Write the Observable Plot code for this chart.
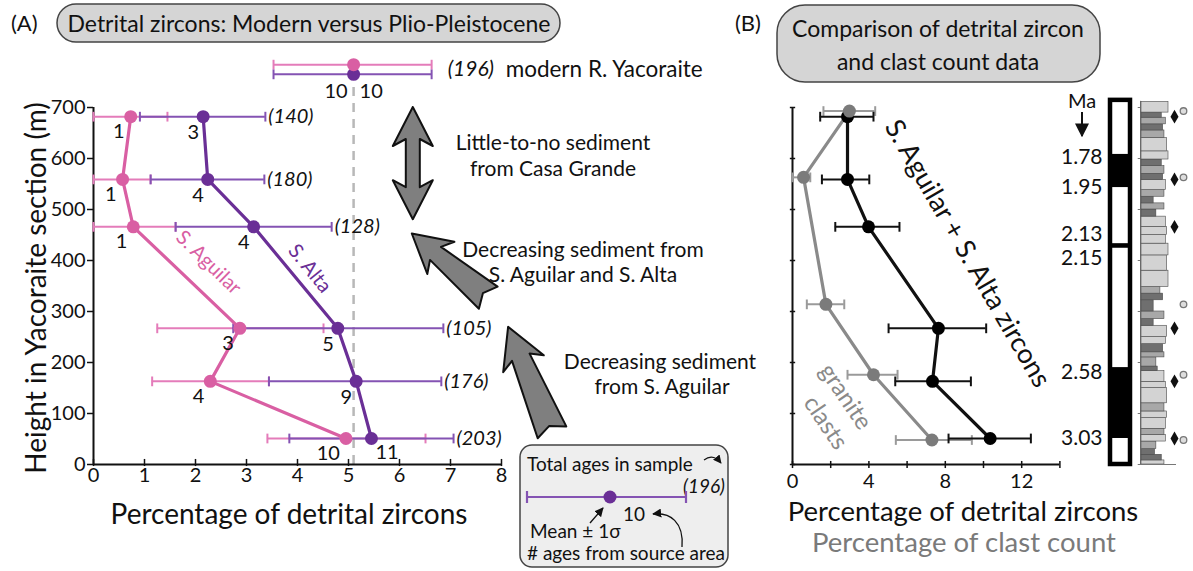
<!DOCTYPE html>
<html><head><meta charset="utf-8">
<script src="https://cdn.jsdelivr.net/npm/d3@7"></script>
<script src="https://cdn.jsdelivr.net/npm/@observablehq/plot@0.6"></script>
<style>
body{margin:0;background:#fff;}
#root{position:relative;width:1193px;height:571px;overflow:hidden;background:#fff;}
#root > svg{position:absolute;left:0;top:0;}
</style></head><body><div id="root"></div>
<script>
const W = 1193, H = 571;
const FONT = "Lato, 'Open Sans', sans-serif";

// ---------- Panel A data (Yacoraite section samples, bottom axis = % detrital zircons) ----------
const sampleHeights = [682, 559, 466, 267, 163, 51];            // m
const sampleTotals  = ["(140)", "(180)", "(128)", "(105)", "(176)", "(203)"];
const aguilarMean = [0.73, 0.57, 0.78, 2.87, 2.29, 4.95];
const aguilarLo   = [0.00, 0.00, 0.00, 1.25, 1.15, 3.41];
const aguilarHi   = [1.45, 1.12, 1.61, 4.51, 3.44, 6.51];
const aguilarN    = [1, 1, 1, 3, 4, 10];
const altaMean = [2.15, 2.24, 3.14, 4.79, 5.15, 5.45];
const altaLo   = [0.91, 1.12, 1.61, 2.74, 3.44, 3.84];
const altaHi   = [3.37, 3.35, 4.67, 6.86, 6.82, 7.06];
const altaN    = [3, 4, 4, 5, 9, 11];
// modern river sample (drawn above the section)
const modernSources = ["S. Aguilar", "S. Alta"];
const modernMean = [5.1, 5.1];
const modernLo   = [3.53, 3.53];
const modernHi   = [6.63, 6.63];
const modernN    = [10, 10];
const modernRowY = [784, 765];
const modernTotal = "(196)";
const modernName = "modern R. Yacoraite";
const xTicksA = [0, 1, 2, 3, 4, 5, 6, 7, 8];
const yTicks  = [0, 100, 200, 300, 400, 500, 600, 700];

// ---------- Panel B data ----------
const combinedMean = [2.88, 2.88, 3.98, 7.64, 7.33, 10.35];
const combinedLo   = [1.45, 1.54, 2.24, 5.03, 5.38, 8.17];
const combinedHi   = [4.24, 4.02, 5.60, 10.14, 9.34, 12.48];
const clastHeights = [693, 563, 314, 176, 48];
const clastMean = [2.98, 0.58, 1.75, 4.24, 7.30];
const clastLo   = [1.62, 0.00, 0.75, 2.88, 5.41];
const clastHi   = [4.33, 0.93, 2.71, 5.50, 9.39];
const xTicksB  = [0, 2, 4, 6, 8, 10, 12, 14];
const xLabelsB = [0, 4, 8, 12];

// ---------- Magnetostratigraphy and log ----------
const chronAges    = ["1.78", "1.95", "2.13", "2.15", "2.58", "3.03"];
const chronHeights = [608, 543, 433, 424, 190, 51];
const columnTop = 714;
const bedBase  = [0,8,19,30,45,58,70,91,104,120,150,162,183,192,210,220,236,250,272,285,300,322,335,348,380,410,433,450,466,486,500,512,525,538,558,570,585,598,614,640,655,667,680,690];
const bedTop   = [8,19,30,45,58,70,91,104,120,150,162,183,192,210,220,236,250,272,285,300,322,335,348,380,410,433,450,466,486,500,512,525,538,558,570,585,598,614,640,655,667,680,690,711];
const bedGrain = [0.85,0.75,0.5,0.55,0.9,0.85,0.9,0.95,0.85,0.95,0.9,0.85,0.6,0.55,0.85,0.8,0.9,0.95,0.45,0.85,0.45,0.8,0.7,1.0,0.95,1.0,0.9,0.95,0.9,0.55,0.85,0.45,0.85,0.9,0.8,0.85,0.75,1.0,0.95,0.85,0.8,0.9,0.75,1.0];
const bedShade = ["l","d","d","m","l","m","l","l","m","l","l","l","d","m","m","d","l","l","d","m","d","d","m","l","l","l","l","l","l","d","m","d","m","l","d","m","d","l","l","m","d","m","d","l"];

// ---------- styles ----------
const PINK = "#d95fa3", PINK_BAR = "#e47cba", PURPLE = "#6a2f96", PURPLE_BAR = "#8453b3";
const GRAY = "#8a8a8a", GRAY_DOT = "#7b7b7b";
const shadeColor = {l: "#d3d3d3", m: "#a8a8a8", d: "#6f6f6f"};
const vbar = {draw(c, s) { const h = Math.sqrt(s) / 2; c.moveTo(0, -h); c.lineTo(0, h); }};
const hbar = {draw(c, s) { const h = Math.sqrt(s) / 2; c.moveTo(-h, 0); c.lineTo(h, 0); }};
const baseStyle = {background: "transparent", fontFamily: FONT, fontSize: "20px", color: "#111", overflow: "visible"};

const rowsA = sampleHeights.map((h, i) => ({h, am: aguilarMean[i], al: aguilarLo[i], ah: aguilarHi[i], an: aguilarN[i],
  pm: altaMean[i], pl: altaLo[i], ph: altaHi[i], pn: altaN[i], tot: sampleTotals[i]}));
const modern = modernSources.map((s, i) => ({s, m: modernMean[i], lo: modernLo[i], hi: modernHi[i], n: modernN[i], y: modernRowY[i]}));
const colorOf = s => s === "S. Aguilar" ? PINK : PURPLE;
const barOf = s => s === "S. Aguilar" ? PINK_BAR : PURPLE_BAR;

function errorBars(data, {y, lo, hi, stroke, w = 2, r = 5.5}) {
  return [
    Plot.ruleY(data, {y, x1: lo, x2: hi, stroke, strokeWidth: w}),
    Plot.dot(data, {x: lo, y, symbol: vbar, r, stroke, strokeWidth: w, fill: "none"}),
    Plot.dot(data, {x: hi, y, symbol: vbar, r, stroke, strokeWidth: w, fill: "none"})
  ];
}

// ---------- Panel A ----------
const plotA = Plot.plot({
  width: W, height: H, marginLeft: 93, marginRight: W - 501, marginTop: 56, marginBottom: H - 464,
  x: {domain: [0, 8], axis: null}, y: {domain: [0, 800], axis: null},
  style: baseStyle,
  marks: [
    Plot.ruleX([modernMean[0]], {y1: 0, y2: 752, stroke: "#b8b8b8", strokeWidth: 2.5, strokeDasharray: "9,7"}),
    Plot.ruleY([0], {x1: 0, x2: 8, stroke: "#111", strokeWidth: 2}),
    Plot.ruleX([0], {y1: 0, y2: 700, stroke: "#111", strokeWidth: 2}),
    Plot.axisY({ticks: yTicks, tickSize: 6, tickPadding: 2, label: null, strokeWidth: 1.5}),
    Plot.axisX({ticks: xTicksA, tickSize: 0, tickPadding: 3, label: null}),
    Plot.dot(xTicksA, {x: d => d, y: 0, dy: -2, symbol: vbar, r: 4, stroke: "#111", strokeWidth: 1.5, fill: "none"}),
    ...errorBars(rowsA, {y: "h", lo: "al", hi: "ah", stroke: PINK_BAR}),
    ...errorBars(rowsA, {y: "h", lo: "pl", hi: "ph", stroke: PURPLE_BAR}),
    ...errorBars(modern, {y: "y", lo: "lo", hi: "hi", stroke: d => barOf(d.s)}),
    Plot.line(rowsA, {x: "am", y: "h", stroke: PINK, strokeWidth: 3.2}),
    Plot.line(rowsA, {x: "pm", y: "h", stroke: PURPLE, strokeWidth: 3.2}),
    Plot.dot(rowsA, {x: "am", y: "h", r: 6.5, fill: PINK}),
    Plot.dot(rowsA, {x: "pm", y: "h", r: 6.5, fill: PURPLE}),
    Plot.dot([modern[1], modern[0]], {x: "m", y: "y", r: 6.5, fill: d => colorOf(d.s)}),
    // counts of ages from each source area
    Plot.text(rowsA, {x: "am", y: "h", text: d => String(d.an), textAnchor: "end", dx: -6, dy: 15}),
    Plot.text(rowsA.slice(0, -1), {x: "pm", y: "h", text: d => String(d.pn), textAnchor: "end", dx: -4, dy: 16}),
    Plot.text(rowsA.slice(-1), {x: "pm", y: "h", text: d => String(d.pn), textAnchor: "start", dx: 4, dy: 14}),
    Plot.text([modern[0]], {x: "m", y: modern[1].y, text: d => String(d.n), textAnchor: "end", dx: -6, dy: 17}),
    Plot.text([modern[1]], {x: "m", y: "y", text: d => String(d.n), textAnchor: "start", dx: 6, dy: 17}),
    // total ages
    Plot.text(rowsA, {x: "ph", y: "h", text: "tot", textAnchor: "start", dx: 3, fontStyle: "italic"}),
    Plot.text([modernTotal], {x: modernHi[0], y: (modernRowY[0] + modernRowY[1]) / 2, text: d => d, textAnchor: "start", dx: 16, fontStyle: "italic", fontSize: 21}),
    Plot.text([modernName], {x: modernHi[0], y: (modernRowY[0] + modernRowY[1]) / 2, text: d => d, textAnchor: "start", dx: 74, fontSize: 22.5}),
    // line labels
    Plot.text(["S. Aguilar"], {x: (aguilarMean[2] + aguilarMean[3]) / 2, y: (sampleHeights[2] + sampleHeights[3]) / 2,
      text: d => d, rotate: 44, dx: 22, dy: -15, fill: PINK}),
    Plot.text(["S. Alta"], {x: (altaMean[2] + altaMean[3]) / 2, y: (sampleHeights[2] + sampleHeights[3]) / 2,
      text: d => d, rotate: 51, dx: 14, dy: -9, fill: PURPLE})
  ]
});

// ---------- Panel B ----------
const rowsB = sampleHeights.map((h, i) => ({h, m: combinedMean[i], lo: combinedLo[i], hi: combinedHi[i]}));
const rowsC = clastHeights.map((h, i) => ({h, m: clastMean[i], lo: clastLo[i], hi: clastHi[i]}));
const plotB = Plot.plot({
  width: W, height: H, marginLeft: 792, marginRight: W - 1059.4, marginTop: 56, marginBottom: H - 464,
  x: {domain: [0, 14], axis: null}, y: {domain: [0, 800], axis: null},
  style: baseStyle,
  marks: [
    Plot.ruleY([0], {x1: 0, x2: 14, stroke: "#111", strokeWidth: 2}),
    Plot.ruleX([0], {y1: 0, y2: 700, stroke: "#111", strokeWidth: 2}),
    Plot.dot(xTicksB, {x: d => d, y: 0, symbol: vbar, r: 4, stroke: "#111", strokeWidth: 1.5, fill: "none"}),
    Plot.dot(yTicks, {x: 0, y: d => d, symbol: hbar, r: 3, stroke: "#111", strokeWidth: 1.5, fill: "none"}),
    Plot.axisX({ticks: xLabelsB, tickSize: 0, tickPadding: 9, label: null}),
    ...errorBars(rowsC, {y: "h", lo: "lo", hi: "hi", stroke: "#9a9a9a"}),
    ...errorBars(rowsB, {y: "h", lo: "lo", hi: "hi", stroke: "#111"}),
    Plot.line(rowsC, {x: "m", y: "h", stroke: GRAY, strokeWidth: 3.2}),
    Plot.line(rowsB, {x: "m", y: "h", stroke: "#111", strokeWidth: 3.2}),
    Plot.dot(rowsB, {x: "m", y: "h", r: 6.5, fill: "#000"}),
    Plot.dot(rowsC, {x: "m", y: "h", r: 6.5, fill: GRAY_DOT}),
    Plot.text(["S. Aguilar + S. Alta zircons"], {x: (combinedMean[2] + combinedMean[3]) / 2, y: (sampleHeights[2] + sampleHeights[3]) / 2,
      text: d => d, rotate: 60, dx: 64, dy: -24, fontSize: 27, fill: "#111"}),
    Plot.text(["granite"], {x: clastMean[3], y: clastHeights[3], text: d => d, rotate: 56, dx: -28, dy: 22, fontSize: 24, fill: GRAY}),
    Plot.text(["clasts"], {x: clastMean[3], y: clastHeights[3], text: d => d, rotate: 56, dx: -48, dy: 48, fontSize: 24, fill: GRAY})
  ]
});

// ---------- Magnetostratigraphy + lithologic log ----------
const normalZones = [0, 2, 4].map(i => ({top: chronHeights[i], base: chronHeights[i + 1]}));
const chrons = chronAges.map((a, i) => ({a, h: chronHeights[i]}));
const labelShift = [3, 0, -9, 10, 5, 0];
const beds = bedBase.map((b, i) => ({b, t: bedTop[i], g: bedGrain[i], s: bedShade[i]}));
const plotS = Plot.plot({
  width: W, height: H, marginLeft: 1108, marginRight: W - 1186, marginTop: 56, marginBottom: H - 464,
  x: {domain: [0, 78], axis: null}, y: {domain: [0, 800], axis: null},
  style: baseStyle,
  marks: [
    Plot.rect([0], {x1: 2, x2: 22, y1: 0, y2: columnTop, fill: "#fff", stroke: "#000", strokeWidth: 4.5}),
    Plot.rect(normalZones, {x1: 2, x2: 22, y1: "base", y2: "top", fill: "#000"}),
    Plot.text(chrons, {x: 0, y: "h", text: "a", textAnchor: "end", dx: -6, fontSize: 21}),
    Plot.ruleX([32], {y1: 0, y2: 712, stroke: "#777", strokeWidth: 1}),
    Plot.dot(yTicks, {x: 32, y: d => d, symbol: hbar, r: 2, dx: -1, stroke: "#777", strokeWidth: 1}),
    Plot.rect(beds, {x1: 33, x2: d => 33 + d.g * 27, y1: "b", y2: "t", fill: d => shadeColor[d.s], stroke: "#4a4a4a", strokeWidth: 0.6}),
    Plot.ruleY([0], {x1: 32, x2: 68, stroke: "#777", strokeWidth: 1}),
    Plot.dot(sampleHeights, {x: 66, y: d => d, symbol: "diamond", r: 4.2, fill: "#111"}),
    Plot.dot(clastHeights, {x: 75, y: d => d, r: 3.3, fill: "#ddd", stroke: "#777", strokeWidth: 1.3})
  ]
});
// shift chron labels so close boundaries stay legible
d3.select(plotS).selectAll("text").filter(function() { return chronAges.includes(this.textContent); })
  .attr("transform", function() {
    const i = chronAges.indexOf(this.textContent);
    const t = d3.select(this).attr("transform") || "";
    return t + ` translate(0,${labelShift[i]})`;
  });

const root = document.getElementById("root");
root.append(plotA, plotB, plotS);

// ---------- Overlay: titles, axis titles, annotations, legend ----------
const sx = plotA.scale("x"), sy = plotA.scale("y");
const ov = d3.select(root).append("svg").attr("width", W).attr("height", H)
  .style("font-family", FONT).style("pointer-events", "none");
const defs = ov.append("defs");
defs.append("marker").attr("id", "ah").attr("viewBox", "0 0 10 10").attr("refX", 9).attr("refY", 5)
  .attr("markerWidth", 7).attr("markerHeight", 7).attr("orient", "auto-start-reverse")
  .append("path").attr("d", "M0,0L10,5L0,10Z").attr("fill", "#111");

function txt(s, x, y, o = {}) {
  const t = ov.append("text").attr("x", x).attr("y", y).text(s)
    .attr("font-size", o.size || 20).attr("fill", o.color || "#111")
    .attr("text-anchor", o.anchor || "middle").attr("dominant-baseline", o.baseline || "central");
  if (o.italic) t.attr("font-style", "italic");
  if (o.rotate) t.attr("transform", `rotate(${o.rotate},${x},${y})`);
  return t;
}

// title pills
ov.append("rect").attr("x", 57).attr("y", 4).attr("width", 503).attr("height", 38).attr("rx", 19)
  .attr("fill", "#d5d5d5").attr("stroke", "#444").attr("stroke-width", 1.5);
txt("Detrital zircons: Modern versus Plio-Pleistocene", 309, 23, {size: 23});
txt("(A)", 11, 22, {size: 22, anchor: "start"});
ov.append("rect").attr("x", 777).attr("y", 5).attr("width", 323).attr("height", 77).attr("rx", 28)
  .attr("fill", "#d5d5d5").attr("stroke", "#444").attr("stroke-width", 1.5);
txt("Comparison of detrital zircon", 938, 28, {size: 23});
txt("and clast count data", 938, 61, {size: 23});
txt("(B)", 735, 22, {size: 22, anchor: "start"});

// axis titles
txt("Height in Yacoraite section (m)", 35, 288, {size: 28, rotate: -90});
txt("Percentage of detrital zircons", 289, 513, {size: 28});
txt("Percentage of detrital zircons", 963, 510, {size: 27.5});
txt("Percentage of clast count", 964, 541, {size: 27.5, color: "#7a7a7a"});

// Ma label + arrow
txt("Ma", 1082, 100, {size: 20});
ov.append("line").attr("x1", 1082).attr("x2", 1082).attr("y1", 112).attr("y2", 136)
  .attr("stroke", "#111").attr("stroke-width", 2).attr("marker-end", "url(#ah)");

// block arrows (defined in panel-A data units, converted through the plot's scales)
const arrowsA = [
  {x1: 6.27, y1: 480, x2: 6.27, y2: 700, double: true, shaft: 14, head: 40, len: 32},
  {x1: 7.75, y1: 326, x2: 6.25, y2: 452, shaft: 17, head: 42, len: 31, flare: 6},
  {x1: 9.0, y1: 62, x2: 8.14, y2: 269, shaft: 19, head: 44, len: 33, flare: 6}
];
function blockArrow(a) {
  const x1 = sx.apply(a.x1), y1 = sy.apply(a.y1), x2 = sx.apply(a.x2), y2 = sy.apply(a.y2);
  const dx = x2 - x1, dy = y2 - y1, L = Math.hypot(dx, dy), ux = dx / L, uy = dy / L, nx = -uy, ny = ux;
  const P = (s, t) => [x1 + ux * s + nx * t, y1 + uy * s + ny * t];
  const w = a.shaft / 2, hw = a.head / 2, hl = a.len, b = 7;
  let pts;
  if (a.double) {
    pts = [P(0, 0), P(hl + b, hw), P(hl, w), P(L - hl, w), P(L - hl - b, hw), P(L, 0),
           P(L - hl - b, -hw), P(L - hl, -w), P(hl, -w), P(hl + b, -hw)];
  } else {
    const f = a.flare || 0;
    pts = [P(0, w + f), P(L - hl, w), P(L - hl - b, hw), P(L, 0), P(L - hl - b, -hw), P(L - hl, -w),
           P(0, -w - f), P(7, 0)];
  }
  return "M" + pts.map(p => p.map(v => v.toFixed(1)).join(",")).join("L") + "Z";
}
arrowsA.forEach(a => ov.append("path").attr("d", blockArrow(a)).attr("fill", "#7f7f7f")
  .attr("stroke", "#111").attr("stroke-width", 2).attr("stroke-linejoin", "round"));

txt("Little-to-no sediment", 553, 141, {size: 21});
txt("from Casa Grande", 553, 167, {size: 21});
txt("Decreasing sediment from", 583, 248, {size: 21});
txt("S. Aguilar and S. Alta", 583, 273, {size: 21});
txt("Decreasing sediment", 660, 360, {size: 21});
txt("from S. Aguilar", 662, 385, {size: 21});

// legend box
ov.append("rect").attr("x", 520).attr("y", 445).attr("width", 208).attr("height", 122).attr("rx", 12)
  .attr("fill", "#eeeeee").attr("stroke", "#444").attr("stroke-width", 1.5);
txt("Total ages in sample", 527, 463, {size: 19, anchor: "start"});
ov.append("path").attr("d", "M704,460 q9,-7 17,3").attr("fill", "none").attr("stroke", "#111").attr("stroke-width", 1.2)
  .attr("marker-end", "url(#ah)");
txt("(196)", 725, 485, {size: 19, anchor: "end", italic: true});
ov.append("line").attr("x1", 527).attr("x2", 686).attr("y1", 497).attr("y2", 497).attr("stroke", PURPLE_BAR).attr("stroke-width", 2.2);
[527, 686].forEach(x => ov.append("line").attr("x1", x).attr("x2", x).attr("y1", 491).attr("y2", 503).attr("stroke", PURPLE_BAR).attr("stroke-width", 2.2));
ov.append("circle").attr("cx", 610).attr("cy", 497).attr("r", 6.5).attr("fill", PURPLE);
txt("10", 634, 513, {size: 19});
ov.append("line").attr("x1", 590).attr("y1", 523).attr("x2", 603).attr("y2", 508).attr("stroke", "#111").attr("stroke-width", 1.3).attr("marker-end", "url(#ah)");
txt("Mean \u00b1 1\u03c3", 530, 530, {size: 19, anchor: "start"});
ov.append("path").attr("d", "M682,547 C684,522 670,512 653,514").attr("fill", "none").attr("stroke", "#111").attr("stroke-width", 1.3)
  .attr("marker-end", "url(#ah)");
txt("# ages from source area", 527, 552, {size: 19, anchor: "start"});
</script></body></html>
